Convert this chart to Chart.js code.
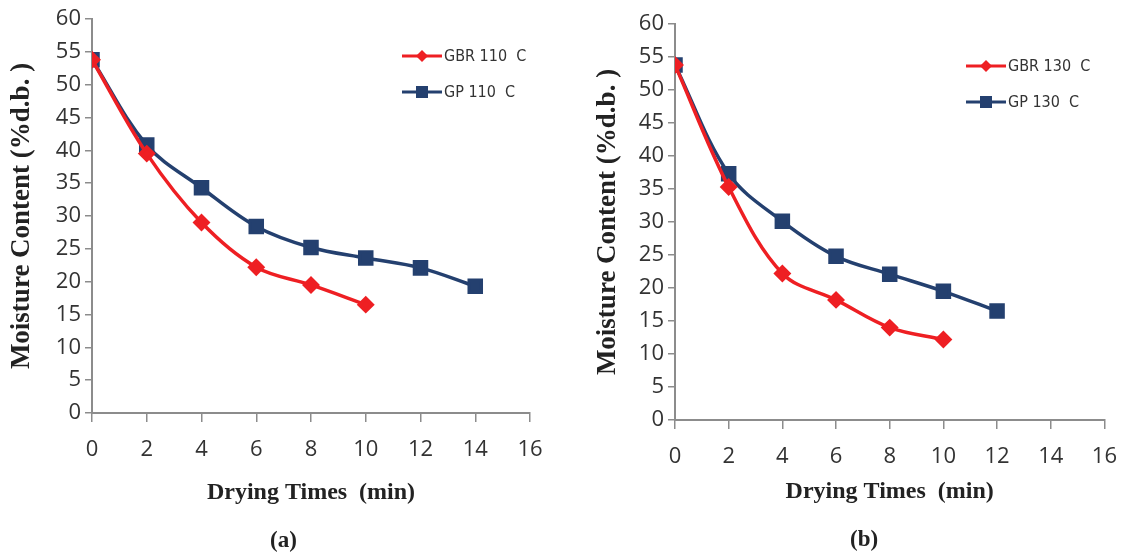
<!DOCTYPE html>
<html><head><meta charset="utf-8">
<script src="https://cdn.jsdelivr.net/npm/chart.js@4.4.1/dist/chart.umd.min.js"></script>
<style>
html,body{margin:0;padding:0;background:#fff;}
#wrap{position:relative;width:1132px;height:556px;}
.pane{position:absolute;top:0;height:556px;}
.cap{position:absolute;font:bold 23px "Liberation Serif",serif;color:#222;}
</style></head><body>
<div id="wrap">
<div class="pane" style="left:0;width:566px"><canvas id="c1" width="566" height="556"></canvas></div>
<div class="pane" style="left:566px;width:566px"><canvas id="c2" width="566" height="556"></canvas></div>
<div class="cap" style="left:270px;top:527px">(a)</div>
<div class="cap" style="left:850px;top:526px">(b)</div>
</div>
<script>
const xTicks = [0,2,4,6,8,10,12,14,16];
const yTicks = [0,5,10,15,20,25,30,35,40,45,50,55,60];
// Panel (a) 110 C
const timesA_GBR = [0,2,4,6,8,10];
const gbr110 = [53.8,39.5,29.0,22.2,19.5,16.5];
const timesA_GP = [0,2,4,6,8,10,12,14];
const gp110 = [53.8,40.8,34.3,28.4,25.2,23.6,22.1,19.3];
// Panel (b) 130 C
const timesB_GBR = [0,2,4,6,8,10];
const gbr130 = [53.8,35.3,22.2,18.2,14.0,12.2];
const timesB_GP = [0,2,4,6,8,10,12];
const gp130 = [53.8,37.3,30.1,24.8,22.1,19.5,16.5];
const labelsA = ['GBR 110  C','GP 110  C'];
const labelsB = ['GBR 130  C','GP 130  C'];

const RED = '#ee1f23', BLUE = '#24406f', AXIS = '#8c8c8c', TXT = '#333';
const TICKFONT = '"Open Sans","Noto Sans",sans-serif';

function pts(xs, ys){ return xs.map((x,i)=>({x:x,y:ys[i]})); }

const legendPlugin = {
  id:'inLegend',
  afterDraw(chart, args, opts){
    const ctx = chart.ctx;
    ctx.save();
    chart.data.datasets.forEach((ds,i)=>{
      const y = opts.y + i*opts.gap;
      const x0 = opts.x;
      ctx.strokeStyle = ds.borderColor; ctx.lineWidth = 3;
      ctx.beginPath(); ctx.moveTo(x0,y); ctx.lineTo(x0+40,y); ctx.stroke();
      ctx.fillStyle = ds.backgroundColor;
      const cx = x0+20;
      if(ds.pointStyle==='rect'){ ctx.fillRect(cx-6,y-6,12,12); }
      else { ctx.beginPath(); ctx.moveTo(cx,y-6); ctx.lineTo(cx+6,y); ctx.lineTo(cx,y+6); ctx.lineTo(cx-6,y); ctx.closePath(); ctx.fill(); }
      ctx.fillStyle = '#333'; ctx.font = '16px "DejaVu Sans Condensed","DejaVu Sans",sans-serif';
      ctx.textBaseline='middle'; ctx.textAlign='left';
      ctx.fillText(ds.label, x0+42, y+1);
    });
    ctx.restore();
  }
};

function make(id, xg, yg, xb, yb, labels, g){
  const ctx = document.getElementById(id);
  return new Chart(ctx,{
    type:'line',
    data:{datasets:[
      {label:labels[0], data:pts(xg,yg), borderColor:RED, backgroundColor:RED, borderWidth:3.5,
       pointStyle:'rectRot', pointRadius:6.5, pointHoverRadius:6.5, tension:0.35},
      {label:labels[1], data:pts(xb,yb), borderColor:BLUE, backgroundColor:BLUE, borderWidth:3.5,
       pointStyle:'rect', pointRadius:8.5, pointHoverRadius:8.5, tension:0.35}
    ]},
    plugins:[legendPlugin],
    options:{
      responsive:false, animation:false, devicePixelRatio:1,
      layout:{padding:{left:g.pl, top:g.pt, right:g.pr, bottom:g.pb}},
      plugins:{legend:{display:false}, tooltip:{enabled:false},
        inLegend:{x:g.lx, y:g.ly, gap:36}},
      scales:{
        x:{type:'linear', min:0, max:16,
          afterBuildTicks(s){ s.ticks = xTicks.map(v=>({value:v})); },
          afterFit(s){ s.height = g.xh; },
          grid:{drawOnChartArea:false, drawTicks:true, tickLength:9, color:AXIS, tickColor:AXIS, lineWidth:1.5},
          border:{color:AXIS, width:2},
          ticks:{color:TXT, padding:g.xpad, font:{family:TICKFONT, size:22}, maxRotation:0, autoSkip:false},
          title:{display:true, text:'Drying Times  (min)', color:'#222', padding:{top:g.xtp}, font:{family:'"Liberation Serif",serif', size:24, weight:'bold'}}
        },
        y:{type:'linear', min:0, max:60,
          afterBuildTicks(s){ s.ticks = yTicks.map(v=>({value:v})); },
          afterFit(s){ s.width = g.yw; },
          grid:{drawOnChartArea:false, drawTicks:true, tickLength:7, color:AXIS, tickColor:AXIS, lineWidth:1.5},
          border:{color:AXIS, width:2},
          ticks:{color:TXT, padding:4, font:{family:TICKFONT, size:22}, autoSkip:false},
          title:{display:true, text:'Moisture Content (%d.b. )', color:'#222', padding:{bottom:2}, font:{family:'"Liberation Serif",serif', size:27, weight:'bold'}}
        }
      }
    }
  });
}
make('c1', timesA_GBR, gbr110, timesA_GP, gp110, labelsA,
  {pl:2, pt:19, pr:36, pb:45, yw:90, xh:98, xpad:15, xtp:14, lx:402, ly:56});
make('c2', timesB_GBR, gbr130, timesB_GP, gp130, labelsB,
  {pl:22, pt:24, pr:24, pb:46, yw:87, xh:90, xpad:15, xtp:10, lx:400, ly:66});
</script>
</body></html>
